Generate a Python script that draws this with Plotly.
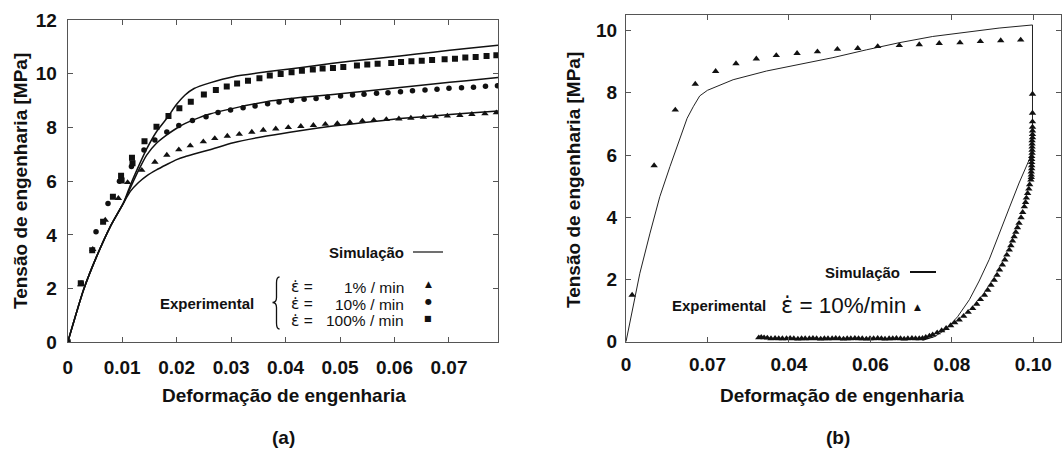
import plotly.graph_objects as go

W, H = 1064, 452

# ---------------- panel (a) data ----------------
a_xticks = [0, 0.01, 0.02, 0.03, 0.04, 0.05, 0.06, 0.07]
a_xticktext = ["0", "0.01", "0.02", "0.03", "0.04", "0.05", "0.06", "0.07"]
a_yticks = [0, 2, 4, 6, 8, 10, 12]
a_yticktext = ["0", "2", "4", "6", "8", "10", "12"]

sim_a_x = [0, 0.0029, 0.0053, 0.0078, 0.0102, 0.0115, 0.0130, 0.0145, 0.0163, 0.0182,
           0.0200, 0.0215, 0.0232, 0.0261, 0.0304, 0.0365, 0.0426, 0.0487, 0.0549,
           0.0610, 0.0671, 0.0732, 0.0790]
sim_1pct = [0, 1.95, 3.19, 4.30, 5.17, 5.62, 5.95, 6.20, 6.42, 6.62, 6.80, 6.91, 7.01,
            7.17, 7.43, 7.68, 7.88, 8.05, 8.19, 8.33, 8.43, 8.53, 8.61]
sim_10pct = [0, 1.95, 3.19, 4.30, 5.17, 5.75, 6.40, 6.97, 7.41, 7.72, 7.97, 8.14, 8.29,
             8.50, 8.71, 8.96, 9.11, 9.23, 9.36, 9.49, 9.62, 9.74, 9.86]
sim_100pct = [0, 1.95, 3.19, 4.30, 5.17, 5.85, 6.55, 7.20, 7.84, 8.34, 8.86, 9.20, 9.45,
              9.66, 9.89, 10.07, 10.22, 10.39, 10.53, 10.66, 10.80, 10.94, 11.06]

tri_x = [0, 0.0024, 0.0046, 0.0069, 0.0093, 0.0110, 0.0136, 0.0160, 0.0182, 0.0204,
         0.0225, 0.0249, 0.0270, 0.0293, 0.0315, 0.0338, 0.0359, 0.0382, 0.0405, 0.0428,
         0.0451, 0.0473, 0.0495, 0.0518, 0.0541, 0.0562, 0.0585, 0.0608, 0.0630, 0.0653,
         0.0675, 0.0697, 0.0720, 0.0742, 0.0766, 0.0787]
tri_y = [0, 2.15, 3.46, 4.55, 5.36, 5.95, 6.41, 6.71, 6.97, 7.17, 7.32, 7.47, 7.59, 7.68,
         7.75, 7.83, 7.90, 7.95, 8.00, 8.04, 8.08, 8.12, 8.15, 8.19, 8.24, 8.27, 8.30,
         8.32, 8.35, 8.38, 8.40, 8.43, 8.45, 8.49, 8.51, 8.55]

circ_x = [0, 0.0025, 0.0052, 0.0074, 0.0095, 0.0117, 0.0140, 0.0160, 0.0182, 0.0204,
          0.0229, 0.0254, 0.0276, 0.0299, 0.0322, 0.0344, 0.0367, 0.0388, 0.0411, 0.0434,
          0.0456, 0.0477, 0.0501, 0.0523, 0.0544, 0.0567, 0.0588, 0.0611, 0.0633, 0.0656,
          0.0678, 0.0700, 0.0723, 0.0745, 0.0767, 0.0789]
circ_y = [0, 2.2, 4.12, 5.17, 6.0, 6.55, 7.16, 7.53, 7.83, 8.07, 8.26, 8.40, 8.56, 8.65,
          8.73, 8.80, 8.88, 8.95, 9.00, 9.05, 9.08, 9.12, 9.17, 9.21, 9.24, 9.27, 9.29,
          9.33, 9.37, 9.39, 9.42, 9.46, 9.48, 9.50, 9.53, 9.55]

sq_x = [0, 0.0024, 0.0045, 0.0065, 0.0083, 0.0098, 0.0099, 0.0118, 0.0119, 0.0141,
        0.0163, 0.0185, 0.0205, 0.0226, 0.0250, 0.0272, 0.0292, 0.0311, 0.0331, 0.0352,
        0.0371, 0.0391, 0.0411, 0.0430, 0.0450, 0.0468, 0.0487, 0.0506, 0.0531, 0.0550,
        0.0569, 0.0594, 0.0612, 0.0631, 0.0650, 0.0669, 0.0692, 0.0711, 0.0730, 0.0749,
        0.0769, 0.0787]
sq_y = [0, 2.2, 3.43, 4.49, 5.42, 6.20, 6.02, 6.87, 6.67, 7.49, 8.03, 8.43, 8.71, 8.96,
        9.23, 9.39, 9.52, 9.64, 9.74, 9.83, 9.93, 9.99, 10.05, 10.11, 10.16, 10.19,
        10.21, 10.25, 10.31, 10.34, 10.37, 10.40, 10.44, 10.46, 10.48, 10.51, 10.54,
        10.56, 10.60, 10.62, 10.66, 10.69]

# ---------------- panel (b) data ----------------
b_xticks = [0, 0.02, 0.04, 0.06, 0.08, 0.10]
b_xticktext = ["0", "0.07", "0.04", "0.06", "0.08", "0.10"]
b_yticks = [0, 2, 4, 6, 8, 10]
b_yticktext = ["0", "2", "4", "6", "8", "10"]

sim_b_x = [0, 0.0014, 0.0034, 0.0059, 0.0083, 0.0108, 0.0132, 0.0150, 0.0165, 0.0181,
           0.0200, 0.0230, 0.0263, 0.0345, 0.0426, 0.0508, 0.0590, 0.0671, 0.0753,
           0.0835, 0.0916, 0.0998, 0.0998, 0.0990, 0.0965, 0.0941, 0.0916, 0.0892,
           0.0867, 0.0843, 0.0814, 0.0786, 0.0757, 0.0728]
sim_b_y = [0, 0.91, 2.20, 3.49, 4.66, 5.63, 6.49, 7.18, 7.55, 7.90, 8.08, 8.25, 8.42,
           8.70, 8.92, 9.13, 9.38, 9.61, 9.81, 9.95, 10.08, 10.18, 6.11, 5.85, 5.10,
           4.30, 3.45, 2.65, 1.95, 1.35, 0.80, 0.40, 0.16, 0.04]

exp_b_x = [0.0015, 0.0069, 0.0121, 0.0170, 0.0220, 0.0270, 0.0320, 0.0369, 0.0420,
           0.0470, 0.0519, 0.0569, 0.0618, 0.0671, 0.0720, 0.0769, 0.0820, 0.0870,
           0.0920, 0.0969,
           # unloading at the maximum strain
           0.0998, 0.0998, 0.0998, 0.0998, 0.0998, 0.0998, 0.0998, 0.0997, 0.0997,
           0.0997, 0.0997, 0.0997, 0.0996, 0.0996, 0.0996, 0.0996, 0.0996, 0.0995,
           0.0995, 0.0995,
           # recovery curve
           0.0994, 0.0991, 0.0989, 0.0986, 0.0983, 0.0981, 0.0978, 0.0974, 0.0970,
           0.0965, 0.0961, 0.0957, 0.0953, 0.0949, 0.0945, 0.0941, 0.0935, 0.0930,
           0.0924, 0.0917, 0.0911, 0.0904, 0.0896, 0.0888, 0.0880, 0.0870, 0.0861,
           0.0851, 0.0840, 0.0829, 0.0818, 0.0807, 0.0797, 0.0786, 0.0775, 0.0764,
           0.0753, 0.0745, 0.0736, 0.0728,
           # residual band
           0.0720, 0.0711, 0.0702, 0.0692, 0.0683, 0.0674, 0.0664, 0.0655, 0.0646,
           0.0636, 0.0627, 0.0618, 0.0608, 0.0599, 0.0590, 0.0580, 0.0571, 0.0562,
           0.0552, 0.0543, 0.0534, 0.0524, 0.0515, 0.0506, 0.0496, 0.0487, 0.0478,
           0.0468, 0.0459, 0.0450, 0.0440, 0.0431, 0.0422, 0.0412, 0.0403, 0.0394,
           0.0384, 0.0375, 0.0366, 0.0356, 0.0347, 0.0339, 0.0332, 0.0326]
exp_b_y = [1.50, 5.66, 7.45, 8.28, 8.69, 8.94, 9.09, 9.20, 9.27, 9.32, 9.40, 9.43, 9.49,
           9.52, 9.55, 9.59, 9.61, 9.65, 9.68, 9.70,
           7.96, 7.35, 7.07, 6.90, 6.78, 6.66, 6.56, 6.46, 6.36, 6.26, 6.16, 6.06, 5.96,
           5.86, 5.76, 5.66, 5.56, 5.46, 5.36, 5.28,
           5.20, 5.05, 4.91, 4.77, 4.62, 4.48, 4.34, 4.16, 3.99, 3.81, 3.67, 3.52, 3.38,
           3.24, 3.09, 2.95, 2.79, 2.63, 2.47, 2.31, 2.14, 1.98, 1.82, 1.66, 1.50, 1.36,
           1.21, 1.07, 0.95, 0.82, 0.70, 0.61, 0.52, 0.43, 0.36, 0.29, 0.22, 0.18, 0.14,
           0.11,
           0.10, 0.10, 0.11, 0.10, 0.09, 0.10, 0.11, 0.10, 0.10, 0.09, 0.10, 0.11, 0.10,
           0.10, 0.09, 0.10, 0.10, 0.11, 0.10, 0.10, 0.09, 0.10, 0.11, 0.10, 0.10, 0.10,
           0.09, 0.10, 0.11, 0.10, 0.10, 0.10, 0.09, 0.10, 0.11, 0.10, 0.10, 0.10, 0.11,
           0.10, 0.12, 0.13, 0.14, 0.13]

# ---------------- helpers ----------------
def px(x):
    return x / W


def py(y):
    return 1 - y / H


FONT = "Liberation Sans, Arial, sans-serif"
INK = "#111111"
FRAME = "#555555"

fig = go.Figure()

for ys in (sim_1pct, sim_10pct, sim_100pct):
    fig.add_trace(go.Scatter(x=sim_a_x, y=ys, mode="lines",
                             line=dict(color=INK, width=1.5, shape="spline",
                                       smoothing=0.6),
                             xaxis="x", yaxis="y"))
fig.add_trace(go.Scatter(x=tri_x, y=tri_y, mode="markers",
                         marker=dict(symbol="triangle-up", size=6.5, color=INK),
                         xaxis="x", yaxis="y"))
fig.add_trace(go.Scatter(x=circ_x, y=circ_y, mode="markers",
                         marker=dict(symbol="circle", size=5.5, color=INK),
                         xaxis="x", yaxis="y"))
fig.add_trace(go.Scatter(x=sq_x, y=sq_y, mode="markers",
                         marker=dict(symbol="square", size=6, color=INK),
                         xaxis="x", yaxis="y"))

fig.add_trace(go.Scatter(x=sim_b_x, y=sim_b_y, mode="lines",
                         line=dict(color="#222222", width=1), xaxis="x2", yaxis="y2"))
fig.add_trace(go.Scatter(x=exp_b_x, y=exp_b_y, mode="markers",
                         marker=dict(symbol="triangle-up", size=6.5, color=INK),
                         xaxis="x2", yaxis="y2"))

tickfont = dict(family=FONT, size=19, color=INK, weight="bold")
axis_common = dict(showline=True, linecolor=FRAME, linewidth=1, mirror="allticks",
                   ticks="inside", ticklen=5, tickcolor=FRAME, showgrid=False,
                   zeroline=False, tickfont=tickfont, fixedrange=True,
                   automargin=False)

fig.update_layout(
    width=W, height=H,
    margin=dict(l=0, r=0, t=0, b=0, autoexpand=False),
    paper_bgcolor="white", plot_bgcolor="white",
    showlegend=False,
    font=dict(family=FONT, color=INK),
    xaxis=dict(domain=[px(67.7), px(498)], range=[0, 0.079], anchor="y",
               tickvals=a_xticks, ticktext=a_xticktext, ticklabelstandoff=8,
               **axis_common),
    yaxis=dict(domain=[py(342.3), py(20)], range=[0, 12], anchor="x",
               tickvals=a_yticks, ticktext=a_yticktext, ticklabelstandoff=6,
               **axis_common),
    xaxis2=dict(domain=[px(626), px(1061)], range=[0, 0.1068], anchor="y2",
                tickvals=b_xticks, ticktext=b_xticktext, ticklabelstandoff=5,
                **axis_common),
    yaxis2=dict(domain=[py(341.7), py(15)], range=[0, 10.5], anchor="x2",
                tickvals=b_yticks, ticktext=b_yticktext, ticklabelstandoff=4,
                **axis_common),
)

ann = []


def text(x, y, s, size, bold=False, xanchor="center", angle=0, family=FONT):
    ann.append(dict(x=px(x), y=py(y), xref="paper", yref="paper", text=s,
                    showarrow=False, xanchor=xanchor, yanchor="middle",
                    textangle=angle,
                    font=dict(family=family, size=size, color=INK,
                              weight="bold" if bold else "normal")))


EPS = '<span style="font-family:DejaVu Sans">ε̇</span>'

# axis titles & panel labels
text(20, 181, "Tensão de engenharia [MPa]", 19, bold=True, angle=-90)
text(284, 395, "Deformação de engenharia", 19, bold=True)
text(283, 437, "(a)", 19, bold=True)
text(574, 180, "Tensão de engenharia [MPa]", 19, bold=True, angle=-90)
text(842, 395, "Deformação de engenharia", 19, bold=True)
text(838, 437, "(b)", 19, bold=True)

# legend (a)
text(406, 252, "Simulação", 15, bold=True, xanchor="right")
text(207, 303, "Experimental", 15, bold=True)
for yy, rate in [(287, "1% / min"), (304, "10% / min"), (320.5, "100% / min")]:
    text(289, yy, EPS + " =", 15.5, xanchor="left")
    text(406, yy, rate, 15.5, xanchor="right")
text(428, 284, "▲", 9, family="DejaVu Sans")
text(428, 301, "●", 8, family="DejaVu Sans")
text(428, 318, "■", 8, family="DejaVu Sans")

# legend (b)
text(902, 272, "Simulação", 15, bold=True, xanchor="right")
text(719, 305, "Experimental", 15, bold=True)
text(779, 305, EPS + " = 10%/min", 22.5, xanchor="left")
text(917, 307, "▲", 9, family="DejaVu Sans")

fig.update_layout(annotations=ann)

# legend line samples and brace (decorations, paper coordinates)
shapes = [
    dict(type="line", xref="paper", yref="paper", x0=px(413), x1=px(443),
         y0=py(252), y1=py(252), line=dict(color=INK, width=1.2)),
    dict(type="line", xref="paper", yref="paper", x0=px(910), x1=px(936),
         y0=py(272), y1=py(272), line=dict(color=INK, width=2)),
]
bx, bt, bm, bb = 276.5, 277, 302.5, 329
brace = (f"M {px(bx+3)},{py(bt)} Q {px(bx)},{py(bt)} {px(bx)},{py(bt+6)} "
         f"L {px(bx)},{py(bm-5)} Q {px(bx)},{py(bm)} {px(bx-4)},{py(bm)} "
         f"Q {px(bx)},{py(bm)} {px(bx)},{py(bm+5)} "
         f"L {px(bx)},{py(bb-6)} Q {px(bx)},{py(bb)} {px(bx+3)},{py(bb)}")
shapes.append(dict(type="path", xref="paper", yref="paper", path=brace,
                   line=dict(color=INK, width=1.3)))
fig.update_layout(shapes=shapes)

fig.write_html("out.html",
               config={"displayModeBar": False},
               post_script="document.body.style.margin='0';"
                           "document.body.style.overflow='hidden';")
